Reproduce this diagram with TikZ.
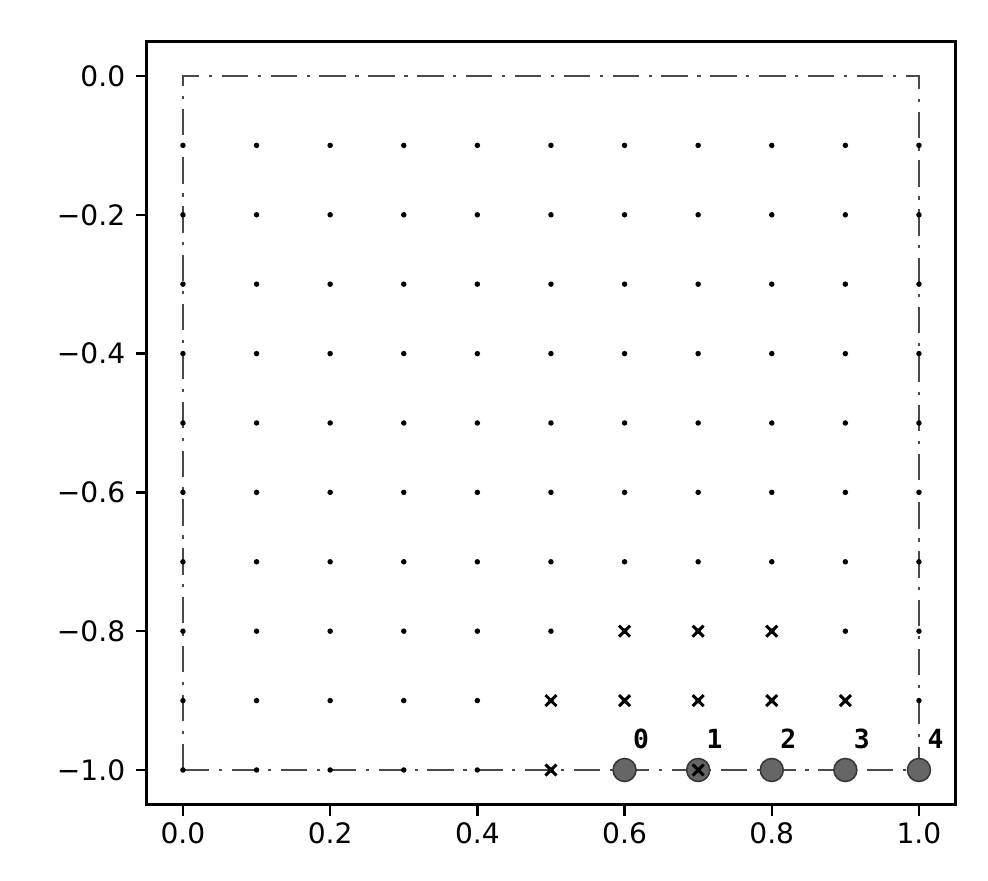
\documentclass[tikz,border=0pt]{standalone}
\usepackage{fontspec}
\setmainfont{DejaVu Sans}
\newfontfamily\idfont{DejaVu Sans Mono}
\usetikzlibrary{positioning}
\definecolor{ptgray}{HTML}{666666}
\definecolor{ptedge}{HTML}{383838}
\definecolor{bdgray}{HTML}{4A4A4A}
\tikzset{
  frame/.style={line width=1.7pt},
  bound/.style={bdgray,line width=1.4pt,dash pattern=on 15pt off 5.5pt on 1.8pt off 5.5pt},
  grid dot/.style={circle,fill=black,inner sep=0pt,minimum size=0.11cm},
  ptnode/.style={circle,fill=ptgray,draw=ptedge,line width=0.9pt,inner sep=0pt,minimum size=0.46cm},
  idlabel/.style={font=\idfont\fontsize{15}{17}\selectfont\bfseries,inner sep=0pt},
  ticklabel/.style={font=\fontsize{16}{18}\selectfont,inner sep=0pt},
  xmark/.style={line width=1.7pt}
}
\begin{document}
\begin{tikzpicture}[x=14.72cm,y=13.88cm]
\useasboundingbox (-0.2486,0.1095) rectangle (1.0938,-1.1599);
% axes box
\draw [frame] (-0.05,0.05) rectangle (1.05,-1.05);
% ticks and labels
\foreach \i/\t in {0/0.0,1/0.2,2/0.4,3/0.6,4/0.8,5/1.0}{
  \draw [frame,line width=1.4pt] ({\i/5},-1.05) -- ++(0,-0.016);
  \node [ticklabel,anchor=north] at ({\i/5},-1.075) {\t};
}
\foreach \i/\t in {0/0.0,1/−0.2,2/−0.4,3/−0.6,4/−0.8,5/−1.0}{
  \draw [frame,line width=1.4pt] (-0.05,{-\i/5}) -- ++(-0.014,0);
  \node [ticklabel,anchor=east] at (-0.078,{-\i/5}) {\t};
}
% boundary
\draw [bound] (0,-1) -- (0,0) -- (1,0) -- (1,-1) -- cycle;
% grid points
\foreach \j in {1,...,10}
  \foreach \i in {0,...,10}
    \node [grid dot] at ({\i/10},{-\j/10}) {};
% particles
\foreach \k in {0,...,4}{
  \node [ptnode] (n\k) at ({(\k+6)/10},-1) {};
  \node [idlabel] at ([shift={(0.33cm,0.63cm)}]n\k.center) {\k};
}
% marked cells
\foreach \i/\j in {6/8,7/8,8/8,5/9,6/9,7/9,8/9,9/9,5/10,7/10}
  \draw [xmark] ({\i/10},{-\j/10}) ++(-0.11cm,-0.11cm) -- ++(0.22cm,0.22cm)
                ({\i/10},{-\j/10}) ++(-0.11cm,0.11cm) -- ++(0.22cm,-0.22cm);
\end{tikzpicture}
\end{document}
